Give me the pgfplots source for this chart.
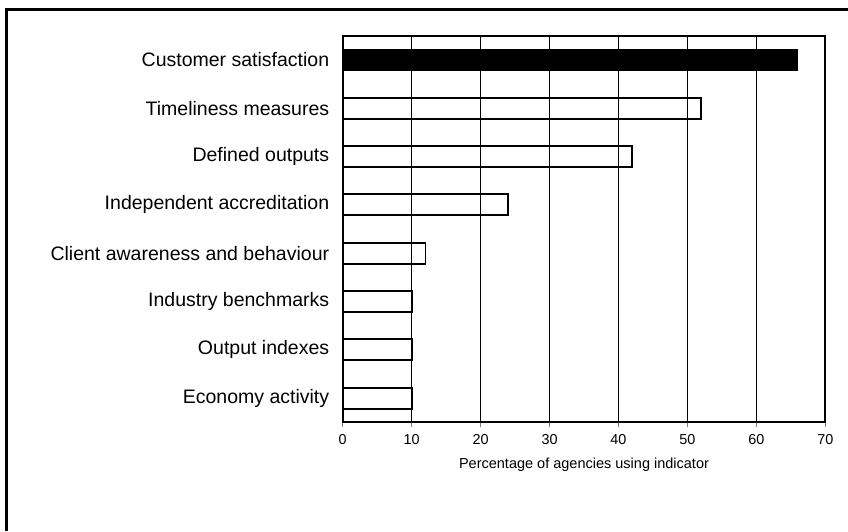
\documentclass[border=0pt]{standalone}
\usepackage{fontspec}
\setmainfont{Liberation Sans}
\usepackage{pgfplots}
\pgfplotsset{compat=1.18}

\begin{document}
\begin{tikzpicture}
\path[use as bounding box] (0,0) rectangle (848pt,531pt);
% outer frame (left and top edges only)
\draw[line width=3pt] (6pt,0pt) -- (6pt,521pt) -- (848pt,521pt);

\begin{axis}[
    at={(342.7pt,108.7pt)}, anchor=south west,
    scale only axis, width=482.6pt, height=386.6pt,
    xbar, bar shift=0pt, bar width=21pt,
    xmin=0, xmax=70, ymin=0.5, ymax=8.5,
    xtick={0,10,...,70},
    ytick={1,...,8},
    yticklabels={Economy activity, Output indexes, Industry benchmarks,
      Client awareness and behaviour, Independent accreditation,
      Defined outputs, Timeliness measures, Customer satisfaction},
    minor ytick={0.5,1.5,...,8.5},
    xtick pos=bottom, ytick pos=left,
    tick align=outside,
    major tick length=5pt, minor tick length=6pt,
    ytick style={draw=none}, minor tick style={draw=black, line width=1.5pt},
    xtick style={line width=1.3pt},
    xmajorgrids, grid style={black, line width=1.3pt},
    axis line style={line width=2pt},
    /pgf/number format/assume math mode=true,
    xticklabel style={font=\fontsize{14.4}{16}\selectfont, yshift=-4pt},
    yticklabel style={font=\fontsize{19.5}{22}\selectfont, xshift=-5pt},
    xlabel={Percentage of agencies using indicator},
    xlabel style={font=\fontsize{14.5}{16}\selectfont, yshift=-6pt},
    clip=false,
]
    % Customer satisfaction (highlighted)
    \addplot[draw=black, fill=black, line width=1.5pt] coordinates {(66,8)};
    % Other indicators
    \addplot[draw=black, fill=none, line width=1.8pt] coordinates {
      (52,7) (42,6) (24,5) (12,4) (10,3) (10,2) (10,1)
    };
\end{axis}
\end{tikzpicture}
\end{document}
